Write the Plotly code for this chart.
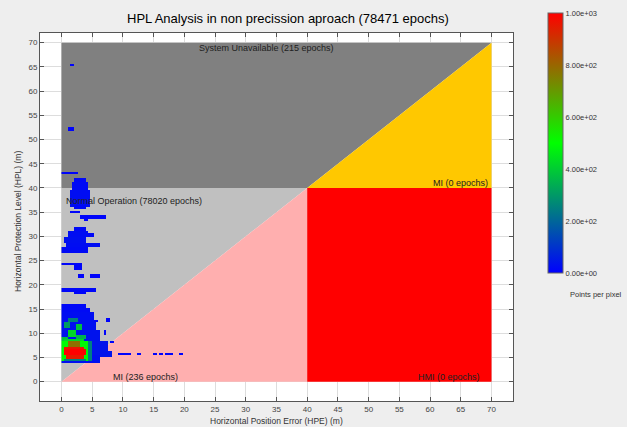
import numpy as np
import plotly.graph_objects as go

# ---- 2D histogram clusters (HPL range, HPE range, points per pixel) ----
hpl_from = [65.1, 52.0, 42.9,
            41.0, 39.6, 36.5, 35.8, 34.9, 33.9, 33.5,
            31.0, 30.0, 30.2, 28.6, 27.9, 26.5,
            24.0, 23.3, 21.8, 21.8, 18.7, 18.1,
            15.2, 14.1, 12.7, 10.6, 8.5, 6.5, 5.4, 4.0,
            12.5, 12.3, 9.9, 8.0, 5.5, 5.5, 5.5, 5.5, 5.5, 5.5,
            12.3, 11.2, 10.6, 9.6, 9.0, 8.8,
            8.5, 4.6, 4.6, 4.2,
            7.2, 6.6, 5.6, 5.0]
hpl_to = [65.5, 52.4, 43.4,
          41.8, 41.0, 39.6, 36.5, 35.4, 34.3, 33.9,
          31.8, 31.0, 30.8, 30.0, 28.6, 27.9,
          24.5, 24.0, 22.2, 22.2, 19.2, 18.7,
          15.8, 15.2, 14.1, 12.7, 10.6, 8.5, 6.5, 5.4,
          12.9, 12.7, 10.3, 8.4, 5.9, 5.9, 5.9, 5.9, 5.9, 5.9,
          12.9, 12.0, 11.6, 10.4, 9.6, 9.4,
          9.0, 8.5, 8.5, 4.6,
          8.2, 7.2, 6.6, 5.6]
hpe_from = [1.6, 1.0, 0.0,
            2.2, 1.7, 1.4, 2.0, 1.6, 3.0, 3.9,
            2.0, 1.1, 4.4, 0.6, 0.9, 0.3,
            0.0, 2.0, 2.7, 4.7, 0.0, 2.2,
            0.0, 0.0, 0.0, 0.0, 0.0, 0.0, 0.0, 0.0,
            7.5, 5.5, 7.1, 8.2, 9.5, 12.5, 15.0, 16.1, 17.0, 19.3,
            1.0, 0.4, 2.4, 1.2, 2.6, 0.2,
            0.6, 0.0, 4.6, 0.6,
            1.1, 0.6, 0.5, 0.9]
hpe_to = [2.0, 2.0, 2.5,
          4.1, 4.4, 4.7, 3.9, 3.0, 7.1, 4.3,
          3.9, 4.4, 5.2, 4.1, 6.3, 4.4,
          3.3, 3.3, 3.6, 6.3, 5.5, 4.1,
          3.9, 4.7, 5.2, 5.6, 6.3, 7.6, 8.4, 6.2,
          7.8, 5.8, 7.4, 8.6, 11.2, 12.9, 15.4, 16.4, 18.1, 19.8,
          2.5, 1.4, 3.4, 2.2, 4.0, 1.0,
          3.5, 4.6, 5.0, 3.8,
          2.9, 3.6, 4.1, 3.6]
points = [8, 8, 12,
          15, 20, 25, 15, 10, 10, 5,
          20, 25, 15, 30, 25, 20,
          12, 10, 8, 8, 12, 10,
          15, 20, 25, 30, 35, 40, 40, 30,
          5, 5, 5, 5, 5, 5, 5, 5, 5, 5,
          250, 300, 380, 420, 350, 380,
          420, 490, 250, 250,
          780, 960, 1000, 950]

cbar_vals = [0, 200, 400, 600, 800, 1000]
cbar_text = ["0.00e+00", "2.00e+02", "4.00e+02", "6.00e+02", "8.00e+02", "1.00e+03"]
axis_ticks = list(range(0, 75, 5))

# ---- build the pixel grid ----
DX, DY = 0.33, 0.42
nx = int(21 / DX) + 1
ny = int(67 / DY) + 1
z = np.full((ny, nx), np.nan)
for y0, y1, x0, x1, v in zip(hpl_from, hpl_to, hpe_from, hpe_to, points):
    j0 = int(x0 / DX)
    j1 = max(j0 + 1, int(round(x1 / DX)))
    k0 = int(y0 / DY)
    k1 = max(k0 + 1, int(round(y1 / DY)))
    z[k0:k1, j0:j1] = v
xc = (np.arange(nx) + 0.5) * DX
yc = (np.arange(ny) + 0.5) * DY

FONT = "Liberation Sans, Arial, sans-serif"

fig = go.Figure()
fig.add_trace(go.Heatmap(
    x=xc, y=yc, z=z, zmin=0, zmax=1000, zsmooth=False,
    colorscale=[[0, "#0000ff"], [0.5, "#00ff00"], [1, "#ff0000"]],
    hoverinfo="skip",
    colorbar=dict(
        x=(548 - 40) / 473, xanchor="left", xpad=0, ypad=0,
        y=(401 - 13) / 368, yanchor="top", len=260 / 368, lenmode="fraction",
        thickness=15, outlinewidth=1, outlinecolor="#666666",
        tickvals=cbar_vals, ticktext=cbar_text, ticks="",
        tickfont=dict(family=FONT, size=7.5, color="#333333"),
    ),
))

# regions
regions = [
    ("M 0,40 L 0,70 L 70,70 L 40,40 Z", "#808080"),
    ("M 40,40 L 70,70 L 70,40 Z", "#ffc800"),
    ("M 0,0 L 0,40 L 40,40 Z", "#c0c0c0"),
    ("M 0,0 L 40,40 L 40,0 Z", "#ffafaf"),
    ("M 40,0 L 40,40 L 70,40 L 70,0 Z", "#ff0000"),
]
for path, col in regions:
    fig.add_shape(type="path", path=path, xref="x", yref="y",
                  fillcolor=col, line=dict(width=0), layer="between")

lab_font = dict(family=FONT, size=9, color="#222222")
fig.add_annotation(x=33.4, y=68.8, text="System Unavailable (215 epochs)", showarrow=False,
                   xanchor="center", yanchor="middle", font=lab_font)
fig.add_annotation(x=0.4, y=37.4, text="Normal Operation (78020 epochs)", showarrow=False,
                   xanchor="left", yanchor="middle", font=lab_font)
fig.add_annotation(x=69.8, y=41.0, text="MI (0 epochs)", showarrow=False,
                   xanchor="right", yanchor="middle", font=lab_font)
fig.add_annotation(x=8.0, y=0.9, text="MI (236 epochs)", showarrow=False,
                   xanchor="left", yanchor="middle", font=lab_font)
fig.add_annotation(x=68.5, y=0.9, text="HMI (0 epochs)", showarrow=False,
                   xanchor="right", yanchor="middle", font=lab_font)

# titles
fig.add_annotation(xref="paper", yref="paper", x=(288 - 40) / 473, y=(401 - 19) / 368,
                   text="HPL Analysis in non precission aproach (78471 epochs)", showarrow=False,
                   xanchor="center", yanchor="middle", font=dict(family=FONT, size=13, color="#000000"))
fig.add_annotation(xref="paper", yref="paper", x=(276 - 40) / 473, y=(401 - 421) / 368,
                   text="Horizontal Position Error (HPE) (m)", showarrow=False,
                   xanchor="center", yanchor="middle", font=dict(family=FONT, size=8.5, color="#333333"))
fig.add_annotation(xref="paper", yref="paper", x=(18 - 40) / 473, y=(401 - 222) / 368,
                   text="Horizontal Protection Level (HPL) (m)", showarrow=False, textangle=-90,
                   xanchor="center", yanchor="middle", font=dict(family=FONT, size=8.5, color="#333333"))
fig.add_annotation(xref="paper", yref="paper", x=(568 - 40) / 473, y=(401 - 294) / 368,
                   text="Points per pixel", showarrow=False,
                   xanchor="left", yanchor="middle", font=dict(family=FONT, size=7.5, color="#333333"))

axis_common = dict(
    tickvals=axis_ticks, ticks="inside", ticklen=4, tickcolor="#555555",
    showline=True, linecolor="#555555", linewidth=1, mirror="ticks",
    showgrid=True, gridcolor="#dddddd", gridwidth=1, zeroline=False,
    tickfont=dict(family=FONT, size=8, color="#444444"), automargin=False,
)
fig.update_xaxes(range=[-3.5, 73.5], **axis_common)
fig.update_yaxes(range=[-4, 72], **axis_common)

fig.update_layout(
    width=627, height=427,
    margin=dict(l=40, r=114, t=33, b=26),
    paper_bgcolor="#eeeeee", plot_bgcolor="#ffffff",
    showlegend=False,
)
fig.write_html(
    "out.html",
    config={"displayModeBar": False},
    post_script="document.body.style.margin='0';document.body.style.padding='0';"
                "document.body.style.overflow='hidden';document.body.style.background='#eeeeee';",
)
